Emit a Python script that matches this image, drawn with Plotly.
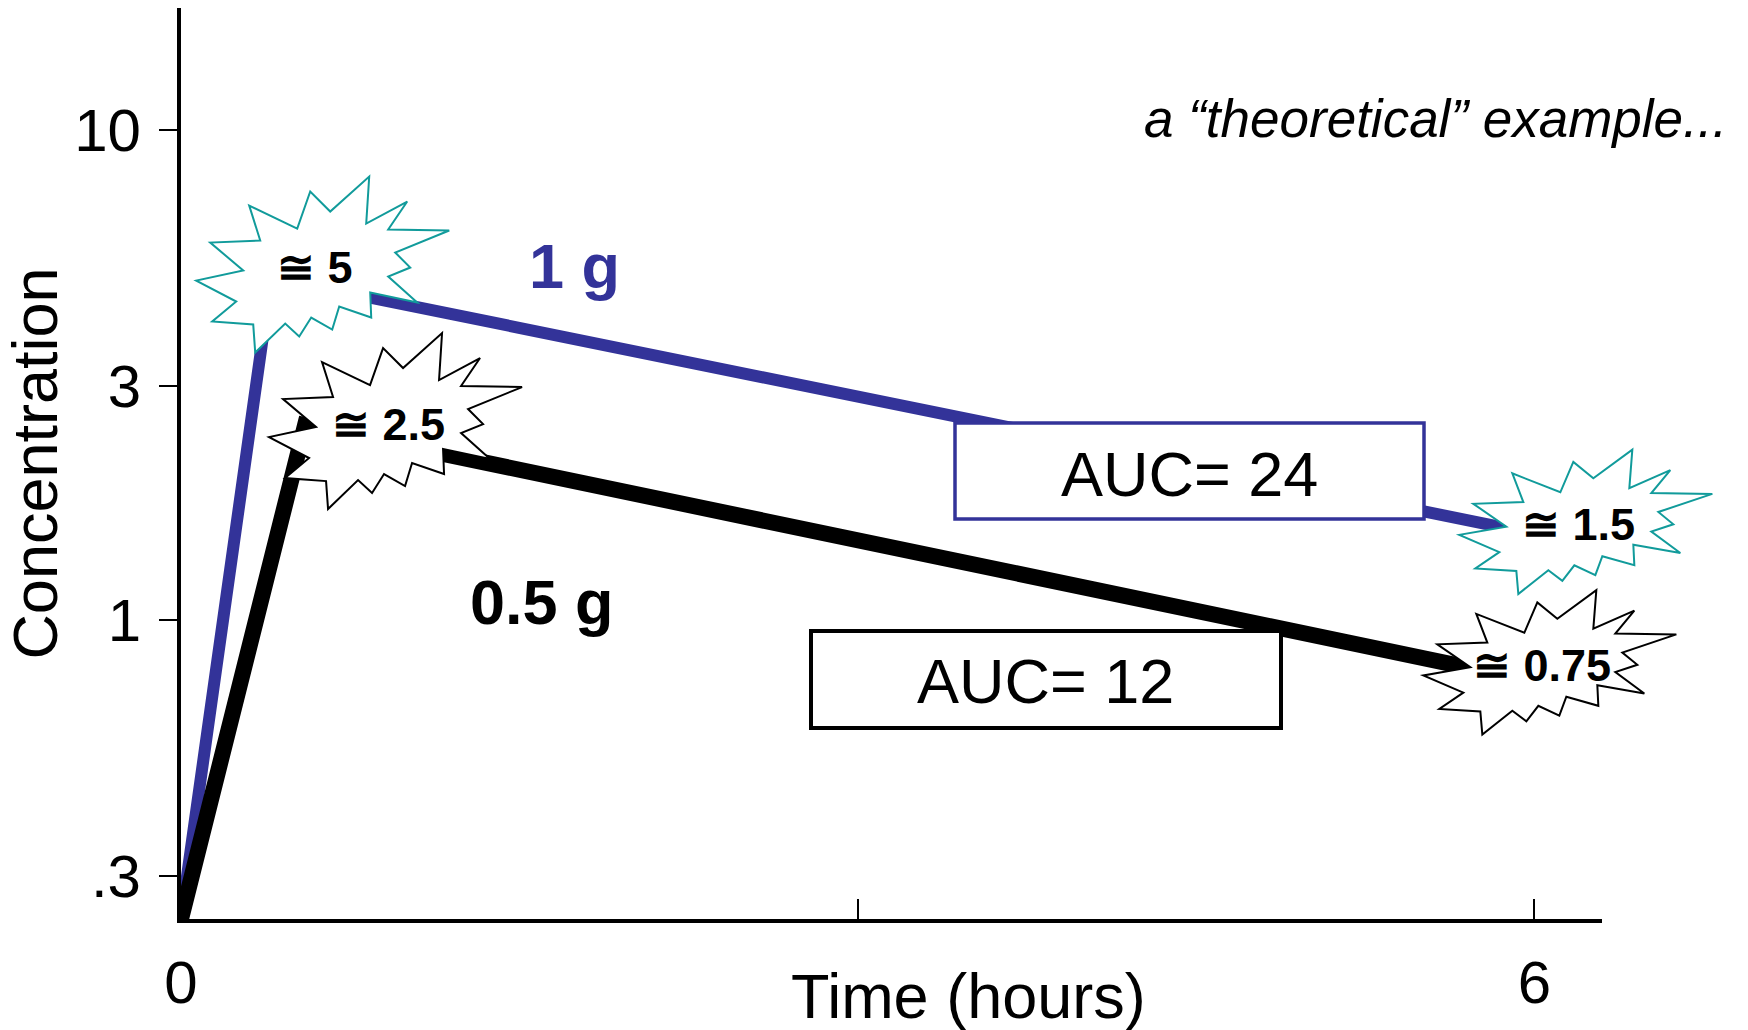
import math
import plotly.graph_objects as go

# Concentration-time profiles for the two doses (time in hours)
TIME_1G = [0, 0.4, 6]
CONC_1G = [0, 5, 1.5]
TIME_05G = [0, 0.55, 6]
CONC_05G = [0, 2.5, 0.75]

AUC_1G = 24
AUC_05G = 12

Y_TICKS = [10, 3, 1, 0.3]
Y_TICK_TEXT = ["10", "3", "1", ".3"]
X_TICKS = [0, 3, 6]
X_TICK_TEXT = ["0", "", "6"]

X_RANGE = [0, 6.3]
Y_RANGE_LOG = [-0.61, 1.249]
Y_FLOOR = 10 ** Y_RANGE_LOG[0]   # a zero concentration sits on the floor of the log axis

BLUE = "#333399"
TEAL = "#119B9B"
FONT = "Liberation Sans, Arial, Helvetica, sans-serif"

W, H = 1748, 1030
M_L, M_R, M_T, M_B = 181, 146, 8, 111
PLOT_W = W - M_L - M_R
PLOT_H = H - M_T - M_B


def px_x(x):
    return (x - M_L) / PLOT_W


def px_y(y):
    return (H - M_B - y) / PLOT_H


# Outline of the starburst callout, pixels around its centre (screen y down)
STAR = [(46, -88), (43, -41), (84, -63), (65, -35), (126, -34), (72, -12),
        (87, 3), (65, 12), (94, 38), (47, 28), (48, 53), (16, 42), (9, 65),
        (-12, 53), (-24, 72), (-38, 59), (-68, 88), (-70, 60), (-111, 57),
        (-87, 37), (-127, 16), (-80, 6), (-113, -22), (-63, -24), (-74, -59),
        (-26, -36), (-13, -73), (7, -53)]


def star_path(dx, dy, sy):
    pts = [(dx + px, -(dy + py * sy)) for px, py in STAR]
    return "M " + " L ".join(f"{x:.1f},{y:.1f}" for x, y in pts) + " Z"


def on_log_axis(values):
    return [c if c > 0 else Y_FLOOR for c in values]


fig = go.Figure()
fig.add_trace(go.Scatter(x=TIME_1G, y=on_log_axis(CONC_1G), mode="lines",
                         line=dict(color=BLUE, width=12), hoverinfo="skip"))
fig.add_trace(go.Scatter(x=TIME_05G, y=on_log_axis(CONC_05G), mode="lines",
                         line=dict(color="black", width=16), hoverinfo="skip"))

# Starburst callouts: (time, conc, centre offset dx, dy in px, vertical squash, outline colour)
callouts = [
    (TIME_1G[1], CONC_1G[1], 52, -13, 1.0, TEAL),
    (TIME_05G[1], CONC_05G[1], 91, -4, 1.0, "black"),
    (TIME_1G[2], CONC_1G[2], 52, -12, 0.82, TEAL),
    (TIME_05G[2], CONC_05G[2], 16, -19, 0.82, "black"),
]

shapes = []
annotations = []
for t, c, dx, dy, sy, col in callouts:
    shapes.append(dict(
        type="path", xref="x domain", yref="y",
        xsizemode="pixel", ysizemode="pixel",
        xanchor=(t - X_RANGE[0]) / (X_RANGE[1] - X_RANGE[0]), yanchor=c,
        path=star_path(dx, dy, sy), fillcolor="white",
        line=dict(color=col, width=2), layer="above"))
    annotations.append(dict(
        x=t, y=math.log10(c), xref="x", yref="y",
        xanchor="center", yanchor="middle",
        xshift=dx - 8, yshift=-(dy + 3), showarrow=False,
        text=f"<b>\u2245 {c:g}</b>",
        font=dict(family=FONT, size=45, color="black")))

# AUC boxes
for (x0, y0, x1, y1), col, bw in [((955, 423, 1424, 519), BLUE, 3.5),
                                   ((811, 631, 1281, 728), "black", 4)]:
    shapes.append(dict(type="rect", xref="paper", yref="paper",
                       x0=px_x(x0), x1=px_x(x1), y0=px_y(y1), y1=px_y(y0),
                       fillcolor="white", line=dict(color=col, width=bw),
                       layer="above"))


def paper_text(x, y, text, size, color="black", xanchor="center"):
    return dict(x=px_x(x), y=px_y(y), xref="paper", yref="paper",
                xanchor=xanchor, yanchor="middle", showarrow=False,
                text=text, font=dict(family=FONT, size=size, color=color))


annotations += [
    paper_text(1189, 474, f"AUC= {AUC_1G}", 63),
    paper_text(1045, 681, f"AUC= {AUC_05G}", 63),
    paper_text(968, 996, "Time (hours)", 63),
    paper_text(574, 266, "<b>1 g</b>", 63, BLUE),
    paper_text(542, 602, "<b>0.5 g</b>", 63),
    paper_text(1729, 119, "<i>a \u201ctheoretical\u201d example...</i>", 53,
               xanchor="right"),
]

fig.update_layout(
    width=W, height=H,
    margin=dict(l=M_L, r=M_R, t=M_T, b=M_B, autoexpand=False),
    paper_bgcolor="white", plot_bgcolor="white",
    showlegend=False,
    shapes=shapes, annotations=annotations,
    xaxis=dict(range=X_RANGE, showline=True, linecolor="black", linewidth=4,
               ticks="inside", ticklen=20, tickwidth=2, tickcolor="black",
               tickvals=X_TICKS, ticktext=X_TICK_TEXT,
               tickfont=dict(family=FONT, size=60, color="black"),
               ticklabelstandoff=8, showgrid=False, zeroline=False,
               fixedrange=True),
    yaxis=dict(type="log", range=Y_RANGE_LOG, showline=True, linecolor="black",
               linewidth=4, ticks="outside", ticklen=18, tickwidth=2,
               tickcolor="black", tickvals=Y_TICKS, ticktext=Y_TICK_TEXT,
               tickfont=dict(family=FONT, size=60, color="black"),
               ticklabelstandoff=6, showgrid=False, zeroline=False,
               title=dict(text="Concentration", standoff=8,
                          font=dict(family=FONT, size=63, color="black")),
               fixedrange=True),
)

fig.write_html("out.html", config={"displayModeBar": False})
